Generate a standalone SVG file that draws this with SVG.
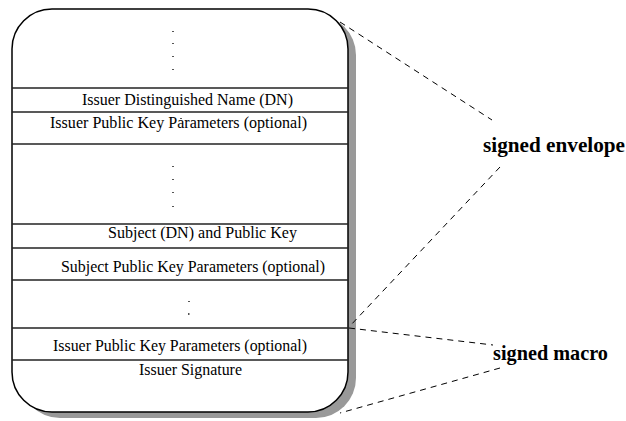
<svg xmlns="http://www.w3.org/2000/svg" width="626" height="421" viewBox="0 0 626 421">
  <style>
    .t { font-family: "Liberation Serif", "Times New Roman", serif; font-size: 16.5px; fill: #000; }
    .lbl { font-family: "Liberation Serif", "Times New Roman", serif; font-size: 21px; font-weight: bold; fill: #000; }
    .div { stroke: #222; stroke-width: 1.3; }
    .dash { fill: none; stroke: #000; stroke-width: 1; stroke-dasharray: 6 5; }
    .dot { fill: #555; }
  </style>
  <rect width="626" height="421" fill="#fff"/>
  <g id="certificate">
    <rect id="shadow" x="20" y="15" width="336" height="403" rx="40" ry="40" fill="#999"/>
    <rect id="frame" x="12" y="9" width="336" height="403" rx="40" ry="40" fill="#fff" stroke="#000" stroke-width="1.5"/>
    <g id="dividers">
      <line class="div" x1="12" y1="88" x2="348" y2="88"/>
      <line class="div" x1="12" y1="112" x2="348" y2="112"/>
      <line class="div" x1="12" y1="144" x2="348" y2="144"/>
      <line class="div" x1="12" y1="224" x2="348" y2="224"/>
      <line class="div" x1="12" y1="248" x2="348" y2="248"/>
      <line class="div" x1="12" y1="280" x2="348" y2="280"/>
      <line class="div" x1="12" y1="328" x2="348" y2="328"/>
      <line class="div" x1="12" y1="360" x2="348" y2="360"/>
    </g>
    <g id="ellipsis-top">
      <rect class="dot" x="172" y="31" width="2" height="1"/>
      <rect class="dot" x="172" y="43" width="2" height="1"/>
      <rect class="dot" x="172" y="56" width="2" height="1"/>
      <rect class="dot" x="172" y="69" width="2" height="1"/>
    </g>
    <g id="row-issuer-dn">
      <text class="t" x="82" y="105" textLength="211" lengthAdjust="spacingAndGlyphs">Issuer Distinguished Name (DN)</text>
    </g>
    <g id="row-issuer-params">
      <rect class="dot" x="180" y="118" width="2" height="1"/>
      <text class="t" x="50" y="128" textLength="257" lengthAdjust="spacingAndGlyphs">Issuer Public Key Parameters (optional)</text>
    </g>
    <g id="ellipsis-middle">
      <rect class="dot" x="172" y="166" width="2" height="1"/>
      <rect class="dot" x="172" y="179" width="2" height="1"/>
      <rect class="dot" x="172" y="192" width="2" height="1"/>
      <rect class="dot" x="172" y="206" width="2" height="1"/>
    </g>
    <g id="row-subject">
      <text class="t" x="108" y="238" textLength="189" lengthAdjust="spacingAndGlyphs">Subject (DN) and Public Key</text>
    </g>
    <g id="row-subject-params">
      <text class="t" x="61" y="272" textLength="264" lengthAdjust="spacingAndGlyphs">Subject Public Key Parameters (optional)</text>
    </g>
    <g id="ellipsis-bottom">
      <rect class="dot" x="188" y="301" width="2" height="1"/>
      <rect class="dot" x="188" y="313" width="1.5" height="2"/>
    </g>
    <g id="row-issuer-params-2">
      <text class="t" x="53" y="351" textLength="254" lengthAdjust="spacingAndGlyphs">Issuer Public Key Parameters (optional)</text>
    </g>
    <g id="row-issuer-signature">
      <text class="t" x="139" y="375" textLength="103" lengthAdjust="spacingAndGlyphs">Issuer Signature</text>
    </g>
  </g>
  <g id="label-envelope">
    <text class="lbl" x="483" y="152" textLength="142" lengthAdjust="spacingAndGlyphs">signed envelope</text>
  </g>
  <g id="label-macro">
    <text class="lbl" x="493" y="360" textLength="115" lengthAdjust="spacingAndGlyphs">signed macro</text>
  </g>
  <g id="connectors">
    <line class="dash" x1="340" y1="22" x2="492" y2="120"/>
    <line class="dash" x1="500" y1="167" x2="349" y2="327"/>
    <line class="dash" x1="349" y1="328" x2="493" y2="345"/>
    <line class="dash" x1="500" y1="368" x2="340" y2="413"/>
  </g>
</svg>
